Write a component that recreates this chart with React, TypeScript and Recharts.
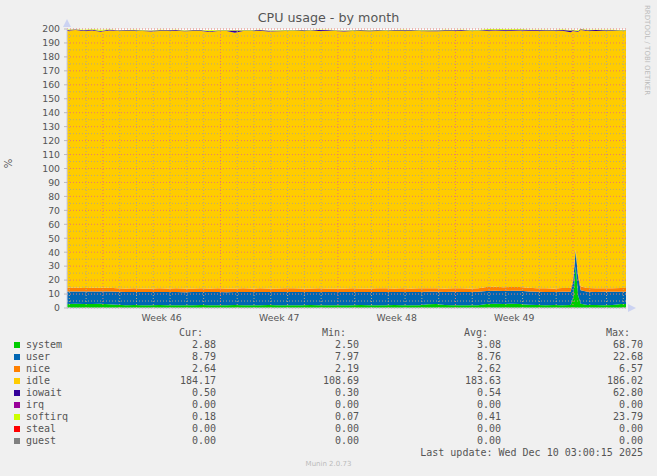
import { AreaChart, Area, XAxis, YAxis, ReferenceLine, CartesianGrid } from 'recharts';

// time in days from the left edge of the graph
const days = [
  0, 0.5, 1, 1.5, 2, 2.5, 3,
  3.5, 4, 4.5, 5, 5.5, 6, 6.5, 7, 7.5, 8, 8.5, 9, 9.5, 10,
  10.5, 11, 11.5, 12, 12.5, 13, 13.5, 14, 14.5, 15, 15.5, 16, 16.5, 17, 17.5, 18, 18.5, 19, 19.5, 20,
  20.5, 21, 21.5, 22, 22.5, 23, 23.5, 24,
  24.5, 25, 25.5, 26, 26.5, 27, 27.5, 28,
  28.5, 29, 29.5, 30,
  30.15, 30.3, 30.45, 30.6,
  31, 31.5, 32, 32.5, 33,
  33.3,
];

const system = [
  2.9, 3.0, 2.8, 2.9, 3.1, 2.7, 2.4,
  2.0, 2.1, 1.9, 2.0, 2.2, 1.9, 2.0, 2.0, 1.9, 2.1, 2.0, 1.9, 2.0, 2.1,
  2.0, 1.9, 2.0, 2.1, 2.0, 1.9, 2.0, 2.0, 2.1, 1.9, 2.0, 2.0, 1.9, 2.0, 2.1, 2.0, 1.9, 2.0, 2.1, 2.0,
  1.9, 2.0, 2.7, 2.8, 2.1, 2.0, 1.9, 2.0,
  2.0, 2.9, 3.0, 2.9, 3.1, 2.9, 2.4, 2.1,
  2.0, 2.1, 2.0, 2.2,
  7.0, 30.0, 9.0, 3.0,
  2.2, 2.1, 2.0, 2.1, 2.9,
  2.9,
];

const user = [
  9.0, 8.8, 9.1, 8.9, 8.7, 9.2, 9.3,
  9.5, 9.3, 9.6, 9.4, 9.2, 9.6, 9.5, 9.3, 9.6, 9.4, 9.5, 9.6, 9.3, 9.4,
  9.5, 9.6, 9.4, 9.3, 9.5, 9.6, 9.4, 9.5, 9.3, 9.6, 9.5, 9.4, 9.6, 9.5, 9.3, 9.4, 9.6, 9.5, 9.4, 9.5,
  9.5, 9.4, 8.9, 8.8, 9.4, 9.6, 9.5, 9.4,
  9.6, 9.3, 9.4, 9.2, 9.3, 9.4, 9.5, 9.6,
  9.5, 9.4, 9.6, 9.5,
  12.0, 11.0, 13.0, 9.8,
  9.5, 9.4, 9.6, 9.5, 8.8,
  8.8,
];

const nice = [
  2.6, 2.9, 2.5, 2.7, 2.8, 2.6, 2.4,
  2.5, 2.7, 2.4, 2.6, 2.8, 2.5, 2.6, 2.7, 2.4, 2.6, 2.5, 2.7, 2.6, 2.5,
  2.6, 2.5, 2.7, 2.6, 2.4, 2.6, 2.8, 2.5, 2.6, 2.7, 2.5, 2.6, 2.4, 2.7, 2.6, 2.5, 2.6, 2.7, 2.5, 2.6,
  2.6, 2.7, 2.5, 2.6, 2.5, 2.6, 2.7, 2.6,
  2.6, 2.8, 2.9, 2.8, 2.7, 2.8, 2.6, 2.5,
  2.6, 2.5, 2.7, 2.6,
  2.0, 1.0, 2.5, 2.8,
  2.6, 2.7, 2.5, 2.6, 2.6,
  2.6,
];

const idle = [
  184.3, 184.5, 184.2, 184.4, 183.5, 184.4, 184.6,
  184.6, 184.5, 184.7, 184.2, 184.4, 184.5, 184.6, 184.3, 184.7, 184.5, 183.8, 184.4, 184.6, 183.3,
  184.4, 184.5, 184.6, 184.2, 184.4, 184.5, 184.3, 184.6, 184.5, 184.4, 184.7, 184.5, 184.3, 184.4, 184.6, 184.5, 184.4, 184.3, 184.6, 184.5,
  184.6, 184.5, 184.3, 184.2, 184.5, 184.4, 184.6, 184.5,
  184.3, 183.8, 183.6, 183.9, 183.7, 183.8, 184.3, 184.6,
  184.5, 184.6, 184.4, 183.4,
  177.6, 156.2, 173.6, 183.7,
  184.3, 184.4, 184.5, 184.4, 184.2,
  184.2,
];

const iowait = [
  0.5, 0.5, 0.5, 0.6, 0.5, 0.5, 0.4,
  0.5, 0.5, 0.4, 0.5, 0.5, 0.6, 0.5, 0.5, 0.5, 0.5, 0.5, 0.4, 0.5, 1.6,
  0.5, 0.5, 0.6, 0.5, 0.5, 0.4, 0.5, 0.5, 0.5, 0.6, 0.5, 0.5, 0.5, 0.4, 0.5, 0.5, 0.6, 0.5, 0.5, 0.5,
  0.5, 0.4, 0.5, 0.5, 0.6, 0.5, 0.5, 0.5,
  0.5, 0.5, 0.6, 0.5, 0.5, 0.5, 0.4, 0.5,
  0.5, 0.5, 0.6, 1.2,
  0.5, 0.5, 0.5, 0.5,
  0.5, 0.6, 0.5, 0.5, 0.5,
  0.5,
];

const softirq = [
  0.3, 0.2, 0.3, 0.3, 0.9, 0.3, 0.2,
  0.2, 0.3, 0.2, 0.3, 0.3, 0.2, 0.2, 0.3, 0.2, 0.2, 0.8, 0.3, 0.2, 0.3,
  0.3, 0.2, 0.2, 0.3, 0.3, 0.2, 0.3, 0.2, 0.3, 0.2, 0.2, 0.3, 0.3, 0.2, 0.2, 0.3, 0.2, 0.3, 0.2, 0.3,
  0.2, 0.3, 0.3, 0.2, 0.3, 0.2, 0.2, 0.3,
  0.3, 0.6, 0.7, 0.6, 0.5, 0.6, 0.3, 0.2,
  0.3, 0.2, 0.3, 0.3,
  0.4, 0.6, 0.5, 0.3,
  0.3, 0.2, 0.3, 0.3, 0.2,
  0.2,
];

// x axis labels sit mid-week, grid lines on week / day boundaries
const weekTicks = [5.64, 12.64, 19.64, 26.64];
const weekLabels = ['Week 46', 'Week 47', 'Week 48', 'Week 49'];
const weekLines = [2.14, 9.14, 16.14, 23.14, 30.14];
const dayLines = [
  0.14, 1.14, 3.14, 4.14, 5.14, 6.14, 7.14, 8.14, 10.14, 11.14, 12.14, 13.14, 14.14, 15.14,
  17.14, 18.14, 19.14, 20.14, 21.14, 22.14, 24.14, 25.14, 26.14, 27.14, 28.14, 29.14, 31.14, 32.14, 33.14,
];
const yTicks = [0, 10, 20, 30, 40, 50, 60, 70, 80, 90, 100, 110, 120, 130, 140, 150, 160, 170, 180, 190, 200];
const yMinor = [5, 15, 25, 35, 45, 55, 65, 75, 85, 95, 105, 115, 125, 135, 145, 155, 165, 175, 185, 195];

// legend table
const legendNames = ['system', 'user', 'nice', 'idle', 'iowait', 'irq', 'softirq', 'steal', 'guest'];
const legendColors = ['#00CC00', '#0066B3', '#FF8000', '#FFCC00', '#330099', '#990099', '#CCFF00', '#FF0000', '#808080'];
const curVals = ['2.88', '8.79', '2.64', '184.17', '0.50', '0.00', '0.18', '0.00', '0.00'];
const minVals = ['2.50', '7.97', '2.19', '108.69', '0.30', '0.00', '0.07', '0.00', '0.00'];
const avgVals = ['3.08', '8.76', '2.62', '183.63', '0.54', '0.00', '0.41', '0.00', '0.00'];
const maxVals = ['68.70', '22.68', '6.57', '186.02', '62.80', '0.00', '23.79', '0.00', '0.00'];

const rows = days.map((d, i) => ({
  day: d,
  system: system[i],
  user: user[i],
  nice: nice[i],
  idle: idle[i],
  iowait: iowait[i],
  softirq: softirq[i],
}));

const stacked = [
  { key: 'system', color: '#00CC00' },
  { key: 'user', color: '#0066B3' },
  { key: 'nice', color: '#FF8000' },
  { key: 'idle', color: '#FFCC00' },
  { key: 'iowait', color: '#330099' },
  { key: 'softirq', color: '#CCFF00' },
];

const sans = '"DejaVu Sans", sans-serif';
const mono = '"DejaVu Sans Mono", monospace';
const txt = '#555555';

function Legend() {
  const colRight = [216, 359, 501, 643];
  const cols = [curVals, minVals, avgVals, maxVals];
  const heads = ['Cur:', 'Min:', 'Avg:', 'Max:'];
  const base = { position: 'absolute' as const, fontFamily: mono, fontSize: 10, lineHeight: '12px', color: txt, whiteSpace: 'pre' as const };
  return (
    <>
      {heads.map((h, c) => (
        <div key={h} style={{ ...base, top: 327, right: 657 - colRight[c] + 13 }}>{h}</div>
      ))}
      {legendNames.map((n, i) => (
        <div key={n}>
          <div style={{ position: 'absolute', left: 14, top: 342 + i * 12, width: 6, height: 6, background: legendColors[i] }} />
          <div style={{ ...base, left: 26, top: 339 + i * 12 }}>{n}</div>
          {cols.map((col, c) => (
            <div key={c} style={{ ...base, top: 339 + i * 12, right: 657 - colRight[c] }}>{col[i]}</div>
          ))}
        </div>
      ))}
      <div style={{ ...base, top: 447, right: 657 - 643 }}>Last update: Wed Dec 10 03:00:15 2025</div>
    </>
  );
}

export default function App() {
  return (
    <div style={{ position: 'fixed', left: 0, top: 0, width: 657, height: 476, background: '#F0F0F0', overflow: 'hidden' }}>
      <div style={{ position: 'absolute', left: 0, width: 657, top: 11, textAlign: 'center', fontFamily: sans, fontSize: 12.7, lineHeight: '14px', color: txt }}>
        CPU usage - by month
      </div>
      <div style={{ position: 'absolute', left: 4, top: 158, fontFamily: sans, fontSize: 10, color: txt, transform: 'rotate(-90deg)' }}>%</div>
      <div style={{ position: 'absolute', left: 643, top: 5, writingMode: 'vertical-rl', fontFamily: sans, fontSize: 7, color: '#BBBBBB', whiteSpace: 'nowrap' }}>
        RRDTOOL / TOBI OETIKER
      </div>
      <AreaChart width={657} height={476} data={rows} margin={{ top: 29, right: 31, left: 37, bottom: 148 }}>
        <CartesianGrid horizontal={false} vertical={false} fill="#FFFFFF" />
        <XAxis
          dataKey="day"
          type="number"
          domain={[0, 33.3]}
          ticks={weekTicks}
          tickFormatter={(v) => weekLabels[weekTicks.indexOf(v)]}
          tickLine={false}
          tickSize={0}
          tickMargin={6}
          height={20}
          axisLine={{ stroke: '#C8CDE8' }}
          tick={{ fontFamily: sans, fontSize: 9.3, fill: txt }}
          allowDataOverflow
        />
        <YAxis
          type="number"
          domain={[0, 200]}
          ticks={yTicks}
          width={30}
          tickSize={3}
          tickMargin={4}
          interval={0}
          tickLine={{ stroke: '#BBBBBB' }}
          axisLine={{ stroke: '#C8CDE8' }}
          tick={{ fontFamily: sans, fontSize: 9.3, fill: txt }}
          allowDataOverflow
        />
        {stacked.map((s) => (
          <Area
            key={s.key}
            dataKey={s.key}
            stackId="cpu"
            type="linear"
            stroke="none"
            fill={s.color}
            fillOpacity={1}
            isAnimationActive={false}
          />
        ))}
        {yMinor.map((v) => (
          <ReferenceLine key={'ym' + v} y={v} stroke="#B8A880" strokeDasharray="1 2" />
        ))}
        {dayLines.map((v) => (
          <ReferenceLine key={'xm' + v} x={v} stroke="#B8A880" strokeDasharray="1 2" />
        ))}
        {yTicks.map((v) => (
          <ReferenceLine key={'yM' + v} y={v} stroke="#E87A70" strokeDasharray="1 2" />
        ))}
        {weekLines.map((v) => (
          <ReferenceLine key={'xM' + v} x={v} stroke="#E87A70" strokeDasharray="1 2" />
        ))}
      </AreaChart>
      {/* axis arrows */}
      <div style={{ position: 'absolute', left: 63, top: 19, width: 0, height: 0, borderLeft: '4px solid transparent', borderRight: '4px solid transparent', borderBottom: '8px solid #CCD3F2' }} />
      <div style={{ position: 'absolute', left: 628, top: 304, width: 0, height: 0, borderTop: '4px solid transparent', borderBottom: '4px solid transparent', borderLeft: '8px solid #CCD3F2' }} />
      <Legend />
      <div style={{ position: 'absolute', left: 0, width: 657, top: 460, textAlign: 'center', fontFamily: sans, fontSize: 7, color: '#BBBBBB' }}>Munin 2.0.73</div>
    </div>
  );
}
